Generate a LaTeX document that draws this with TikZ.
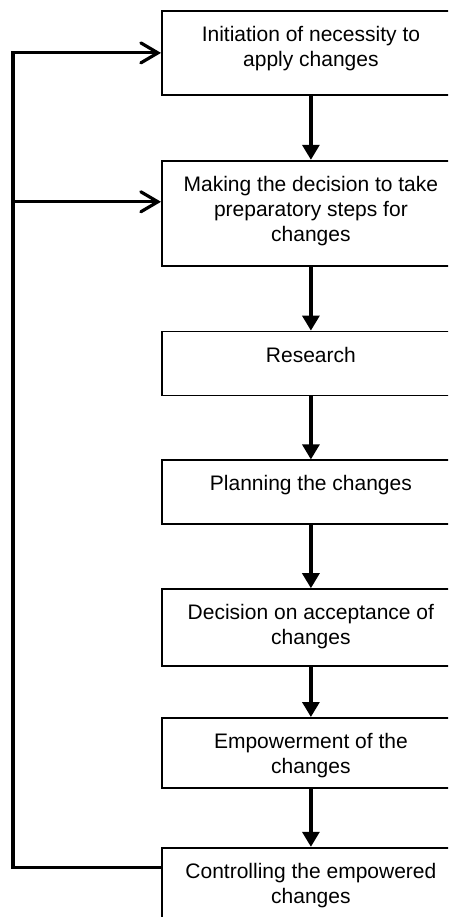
\documentclass[tikz,border=0pt]{standalone}
\usepackage{fontspec}
\setmainfont{Liberation Sans}
\usetikzlibrary{positioning,arrows.meta}

\tikzset{
  stepbox/.style={draw, line width=1.8pt, inner sep=0pt, font=\fontsize{21}{25}\selectfont},
  flow/.style={line width=3.2pt, -{Triangle[length=15pt,width=17pt]}},
  back/.style={line width=3.2pt, -{Straight Barb[length=17pt,width=20pt,line cap=round]}}
}
% box text sits at the top of a box of fixed height
\newcommand{\steptext}[2]{\parbox[c][#1][t]{298pt}{\vspace*{13pt}\centering\strut #2\par}}

\begin{document}
\begin{tikzpicture}[x=1pt,y=-1pt]
  \path[use as bounding box, clip] (0,0) rectangle (448,917);

  % the steps
  \node[stepbox, anchor=north west] (n1) at (161,10) {\steptext{84pt}{Initiation of necessity to\\apply changes}};
  \node[stepbox, below=64pt of n1] (n2) {\steptext{105pt}{Making the decision to take\\preparatory steps for\\changes}};
  \node[stepbox, below=64pt of n2] (n3) {\steptext{64pt}{Research}};
  \node[stepbox, below=63pt of n3] (n4) {\steptext{64pt}{Planning the changes}};
  \node[stepbox, below=63pt of n4] (n5) {\steptext{77pt}{Decision on acceptance of\\changes}};
  \node[stepbox, below=50pt of n5] (n6) {\steptext{70pt}{Empowerment of the\\changes}};
  \node[stepbox, below=58pt of n6] (n7) {\steptext{110pt}{Controlling the empowered\\changes}};

  \foreach \a/\b in {n1/n2,n2/n3,n3/n4,n4/n5,n5/n6,n6/n7}
    \draw[flow] (\a) -- (\b);

  % feedback loop
  \coordinate (rail) at ([xshift=-148pt]n1.west);
  \coordinate (tap2) at ([yshift=-42pt]n2.north west);
  \coordinate (tap7) at ([yshift=-21pt]n7.north west);
  \draw[back] (tap7) -| (rail) -- (n1.west);
  \draw[back] (rail |- tap2) -- (tap2);
\end{tikzpicture}
\end{document}
